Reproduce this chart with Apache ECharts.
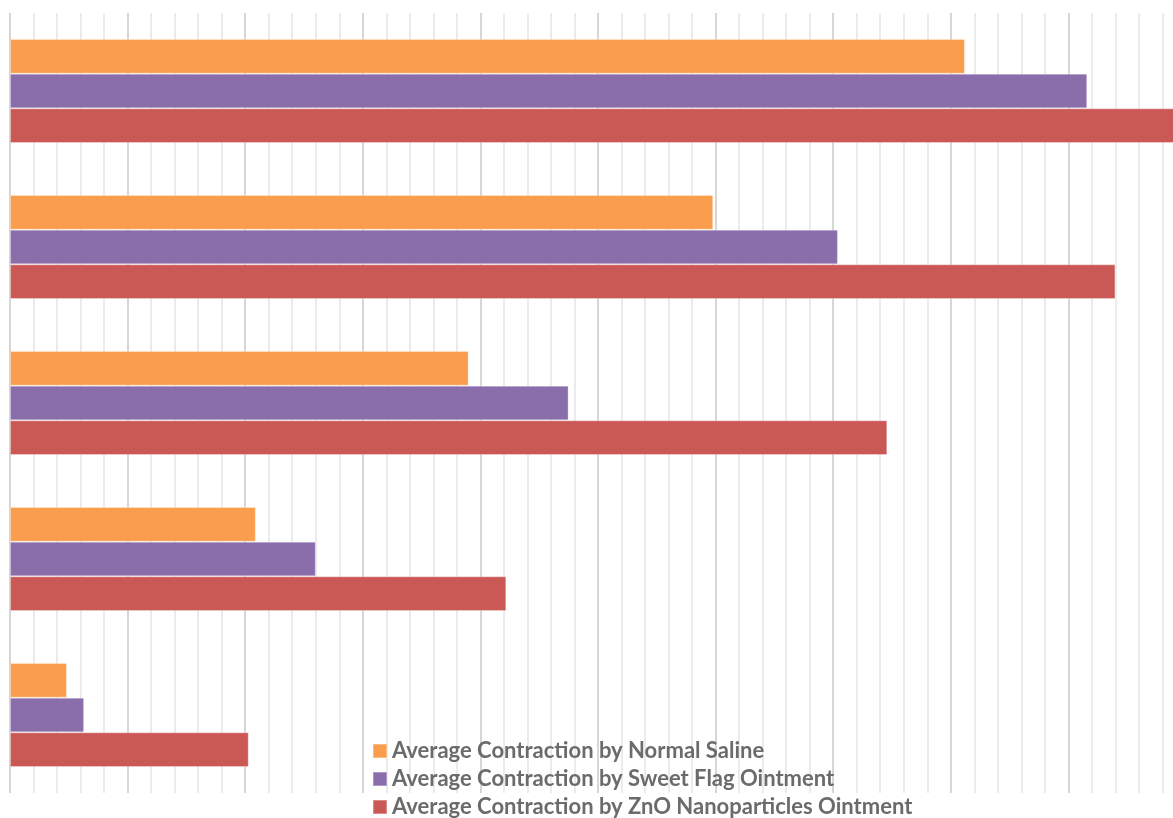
<!DOCTYPE html>
<html>
<head>
<meta charset="utf-8">
<script src="https://cdn.jsdelivr.net/npm/echarts@6/dist/echarts.min.js"></script>
<style>
html,body{margin:0;padding:0;background:#fff;overflow:hidden;width:1173px;height:818px;}
#chart{width:1190px;height:880px;}
</style>
</head>
<body>
<div id="chart"></div>
<script>
// Categories listed top to bottom
var categories = ['Day 5', 'Day 4', 'Day 3', 'Day 2', 'Day 1'];
var seriesNames = [
  'Average Contraction by Normal Saline',
  'Average Contraction by Sweet Flag Ointment',
  'Average Contraction by ZnO Nanoparticles Ointment'
];
var normalSaline = [40.6, 29.9, 19.5, 10.45, 2.42];
var sweetFlag = [45.8, 35.2, 23.75, 13.0, 3.15];
var znoOintment = [49.9, 47.0, 37.3, 21.1, 10.15];
var seriesColors = ['#FA9D4D', '#8A6DAB', '#CA5956'];

var chart = echarts.init(document.getElementById('chart'), null, {renderer: 'canvas'});
var dataSets = [normalSaline, sweetFlag, znoOintment];
var series = dataSets.map(function (d, i) {
  return {
    name: seriesNames[i],
    type: 'bar',
    data: d,
    barGap: '0%',
    barCategoryGap: '33.3%',
    itemStyle: {color: seriesColors[i], borderColor: 'rgba(255,255,255,0.3)', borderWidth: 1},
    emphasis: {disabled: true}
  };
});
chart.setOption({
  animation: false,
  backgroundColor: '#ffffff',
  grid: {left: 10, top: 13, width: 1176, height: 780, containLabel: false},
  xAxis: {
    type: 'value',
    min: 0,
    max: 50,
    interval: 5,
    axisLabel: {show: false},
    axisLine: {show: false},
    axisTick: {show: false},
    splitLine: {show: true, lineStyle: {color: '#d6d6d6', width: 2}},
    minorTick: {show: false, splitNumber: 5},
    minorSplitLine: {show: true, lineStyle: {color: '#ebebeb', width: 2}}
  },
  yAxis: {
    type: 'category',
    inverse: true,
    data: categories,
    axisLabel: {show: false},
    axisLine: {show: false},
    axisTick: {show: false},
    splitLine: {show: false}
  },
  legend: {
    orient: 'vertical',
    left: 372,
    top: 740,
    height: 130,
    padding: 0,
    itemWidth: 14,
    itemHeight: 14,
    itemGap: 6,
    itemTextGap: 6,
    icon: 'rect',
    data: seriesNames,
    textStyle: {
      fontFamily: 'Lato',
      fontWeight: 'bold',
      fontSize: 22,
      color: '#6b6b6b'
    }
  },
  series: series
});
</script>
</body>
</html>
